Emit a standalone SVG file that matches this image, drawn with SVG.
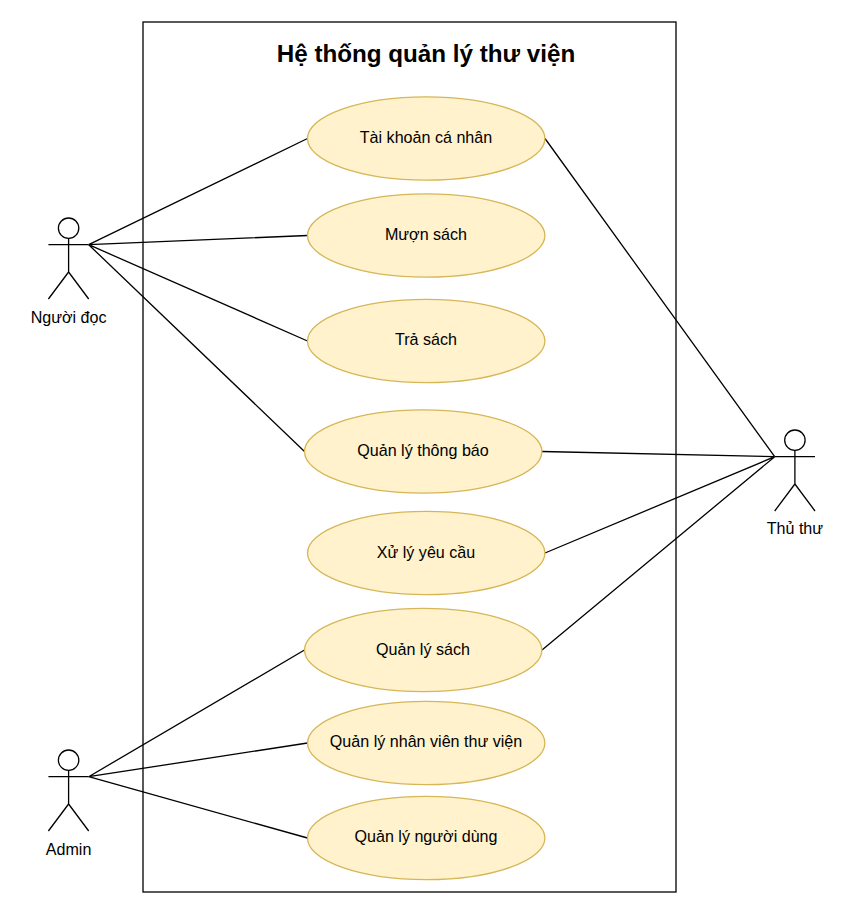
<svg xmlns="http://www.w3.org/2000/svg" width="864" height="903" viewBox="0 0 864 903">
<style>
text{font-family:"Liberation Sans",Arial,sans-serif;font-size:16.1px;fill:#000;text-anchor:middle}
.t{font-size:24.2px;font-weight:bold}
.u{fill:#fff2cc;stroke:#d6b656;stroke-width:1.3}
.l{stroke:#000;stroke-width:1.3;fill:none}
</style>
<rect width="864" height="903" fill="#fff"/>
<g id="system"><rect class="l" x="143" y="22" width="533" height="870"/><text class="t" x="426" y="62">Hệ thống quản lý thư viện</text></g>
<g id="connectors" class="l">
<path d="M88.7 244.7L307.5 138.5M88.7 244.7L307.5 235.5M88.7 244.7L307.5 341M88.7 244.7L304.5 451.5"/>
<path d="M88.7 776.7L304.5 650M88.7 776.7L307.5 743M88.7 776.7L307.5 838"/>
<path d="M774.7 456.7L545 138.5M774.7 456.7L542 451.5M774.7 456.7L545 553M774.7 456.7L542 650"/>
</g>
<g id="uc1"><ellipse class="u" cx="426.2" cy="138.5" rx="118.7" ry="41.7"/><text x="426" y="143">Tài khoản cá nhân</text></g>
<g id="uc2"><ellipse class="u" cx="426.2" cy="235.5" rx="118.7" ry="41.7"/><text x="426" y="240">Mượn sách</text></g>
<g id="uc3"><ellipse class="u" cx="426.2" cy="341" rx="118.7" ry="41.7"/><text x="426" y="345">Trả sách</text></g>
<g id="uc4"><ellipse class="u" cx="423.2" cy="451.5" rx="118.7" ry="41.7"/><text x="423" y="456">Quản lý thông báo</text></g>
<g id="uc5"><ellipse class="u" cx="426.2" cy="553" rx="118.7" ry="41.7"/><text x="426" y="558">Xử lý yêu cầu</text></g>
<g id="uc6"><ellipse class="u" cx="423.2" cy="650" rx="118.7" ry="41.7"/><text x="423" y="655">Quản lý sách</text></g>
<g id="uc7"><ellipse class="u" cx="426.2" cy="743" rx="118.7" ry="41.7"/><text x="426" y="747">Quản lý nhân viên thư viện</text></g>
<g id="uc8"><ellipse class="u" cx="426.2" cy="838" rx="118.7" ry="41.7"/><text x="426" y="842">Quản lý người dùng</text></g>
<g id="actor1" class="l"><circle cx="68.6" cy="228.2" r="10.2" fill="#fff"/><path d="M68.6 238.4V272M48.4 244.7H88.7M68.6 272L48.4 299M68.6 272L88.7 299"/><text x="68.6" y="323" stroke="none">Người đọc</text></g>
<g id="actor2" class="l"><circle cx="68.6" cy="760.2" r="10.2" fill="#fff"/><path d="M68.6 770.4V804M48.4 776.7H88.7M68.6 804L48.4 831M68.6 804L88.7 831"/><text x="68.6" y="855" stroke="none">Admin</text></g>
<g id="actor3" class="l"><circle cx="794.9" cy="440.2" r="10.2" fill="#fff"/><path d="M794.9 450.4V484M774.7 456.7H815M794.9 484L774.7 511M794.9 484L815 511"/><text x="794.9" y="534" stroke="none">Thủ thư</text></g>
</svg>
